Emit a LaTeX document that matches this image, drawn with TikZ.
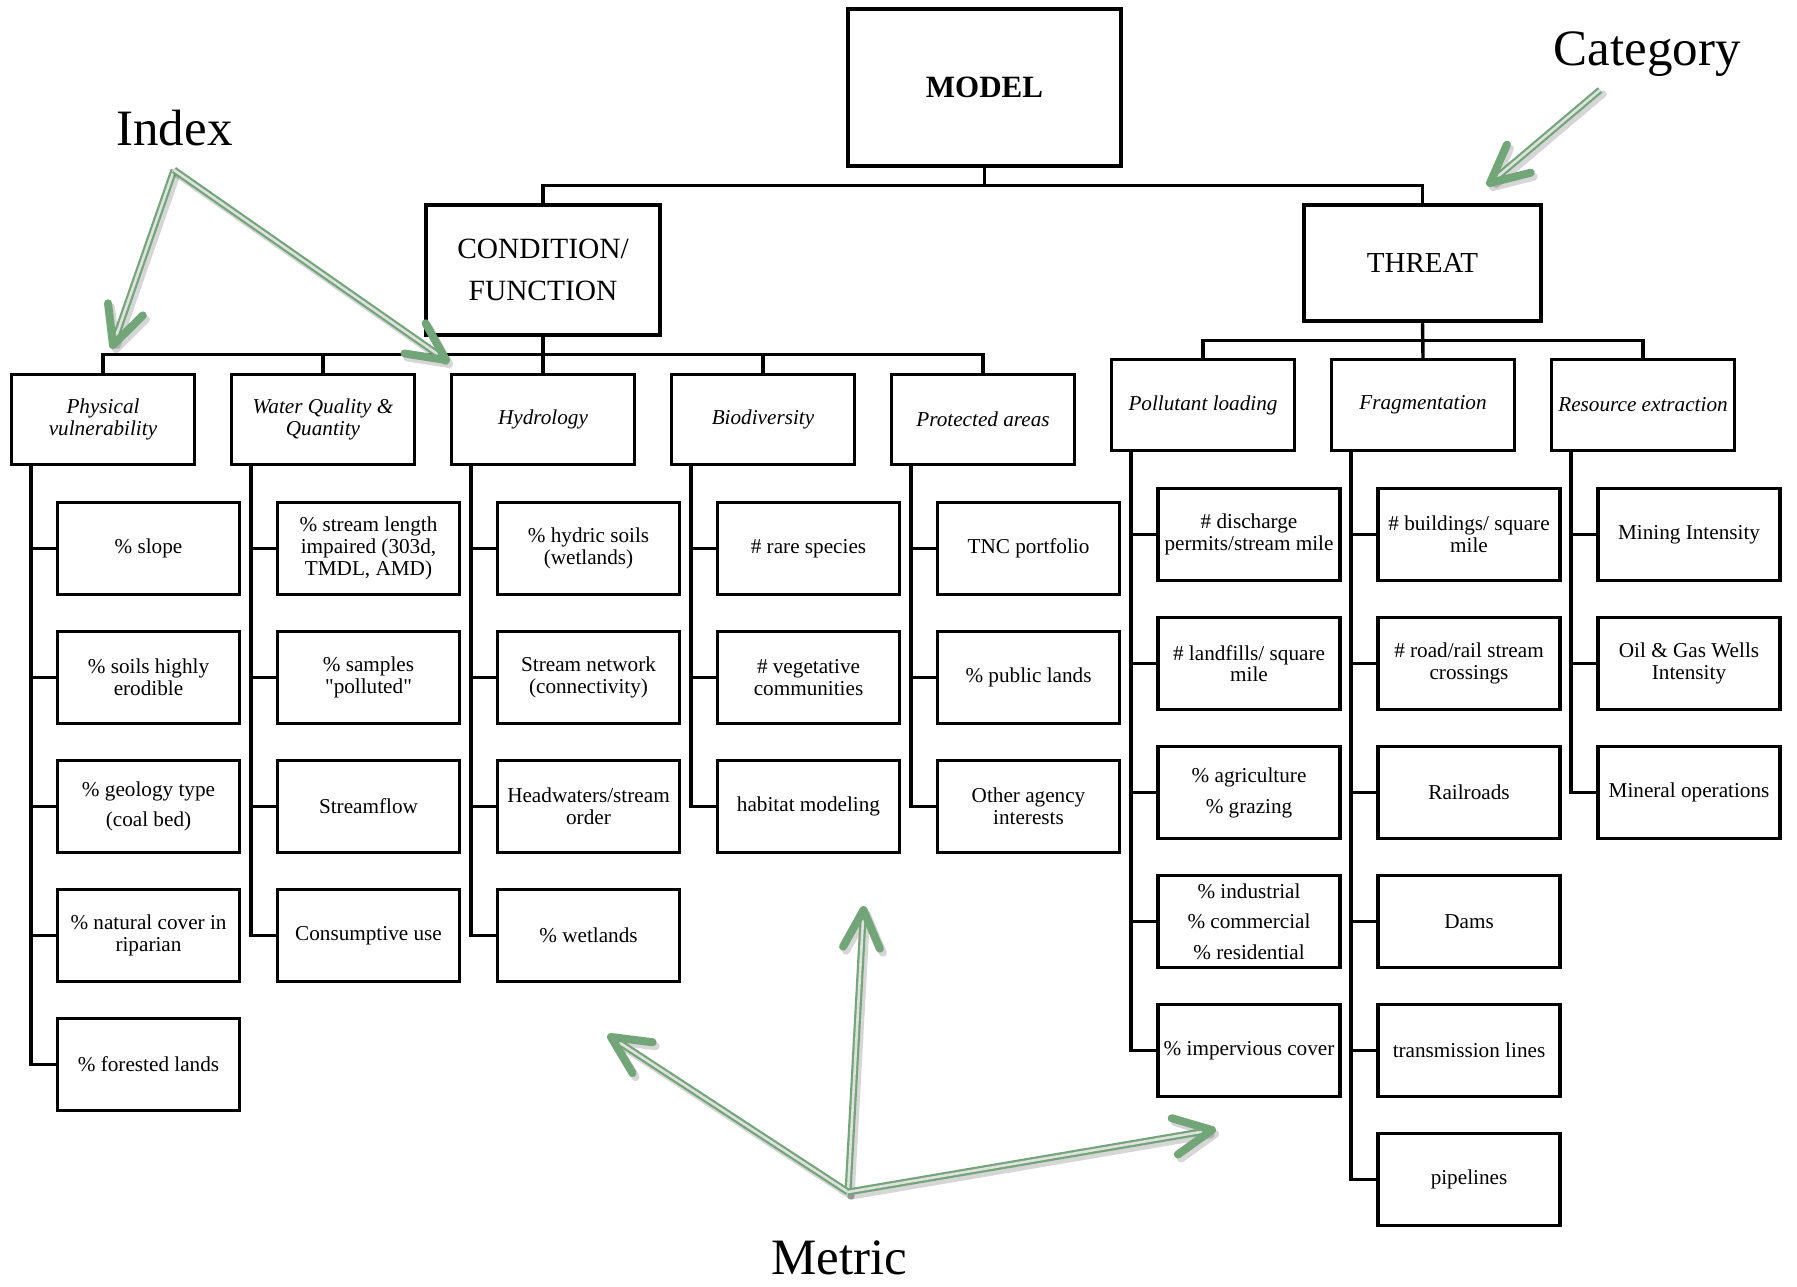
\documentclass[tikz,border=0pt]{standalone}
\usepackage{fontspec}
\setmainfont{Liberation Serif}
\newfontfamily\nolig{Liberation Serif}[Ligatures=TeXOff]
\usetikzlibrary{calc}
\definecolor{gArr}{RGB}{114,166,120}
\tikzset{
  box/.style={draw, line width=1.6pt, align=center, inner sep=1pt, fill=white},
  topbox/.style={box},
  idx/.style={box, minimum width=91.5pt, minimum height=45.3pt, font=\fontsize{10.6}{10.9}\selectfont\itshape},
  met/.style={box, minimum width=91pt, minimum height=46pt, font=\fontsize{10.6}{10.85}\selectfont},
  conn/.style={line width=1.7pt},
  lbl/.style={font=\fontsize{25.5}{28}\selectfont, anchor=base, inner sep=0pt},
  gshaft/.style={draw=gArr, double=white!88!black, line width=1.1pt, double distance=1.3pt},
  ghead/.style={draw=gArr, line width=4pt, line cap=round, line join=round},
  shadeA/.style={draw=black, opacity=.16, line width=3.6pt, line cap=round},
  shadeB/.style={draw=black, opacity=.16, line width=4pt, line cap=round, line join=round},
}
\newcommand\annarrow[2]{%
  \begin{scope}[transform canvas={shift={(1.5pt,-2pt)}}]
    \draw[shadeA] (#1) -- ($(#2)!2pt!(#1)$);
    \draw[shadeB] ($(#2)!21pt!26:(#1)$) -- (#2) -- ($(#2)!21pt!-26:(#1)$);
  \end{scope}
  \draw[gshaft] (#1) -- ($(#2)!2.5pt!(#1)$);
  \draw[ghead] ($(#2)!21pt!26:(#1)$) -- (#2) -- ($(#2)!21pt!-26:(#1)$);
}
\newcommand\spine[2]{\draw[conn] ([xshift=-36pt]#1.south) |- (#2.west);}
\begin{document}
\begin{tikzpicture}[x=0.5pt,y=-0.5pt]
\useasboundingbox (0,0) rectangle (1797,1286);
\fill[white] (0,0) rectangle (1797,1286);

% top level
\node[topbox, minimum width=136.5pt, minimum height=78.5pt, font=\fontsize{15.5}{18}\selectfont\bfseries] (model) at (984.5,87.5) {MODEL};
\node[topbox, minimum width=117pt, minimum height=65pt, font=\fontsize{14.7}{21.2}\selectfont] (cf) at (543,270) {CONDITION/\\FUNCTION};
\node[topbox, minimum width=118.5pt, minimum height=58pt, font=\fontsize{14.5}{17}\selectfont] (th) at (1422.5,263) {THREAT};

% index boxes
\node[idx] (pv) at (103,419.5) {Physical\\vulnerability};
\node[idx] (wq) at (323,419.5) {Water Quality \&\\Quantity};
\node[idx] (hy) at (543,419.5) {Hydrology};
\node[idx] (bd) at (763,419.5) {Biodiversity};
\node[idx] (pa) at (983,419.5) {Protected areas};
\node[idx] (pl) at (1203,405) {Pollutant loading};
\node[idx] (fr) at (1423,405) {Fragmentation};
\node[idx] (re) at (1643,405) {Resource extraction};

% metrics: physical vulnerability
\node[met] (a1) at (148.5,548.5) {\% slope};
\node[met] (a2) at (148.5,677.5) {\% soils highly\\erodible};
\node[met] (a3) at (148.5,806.5) {\% geology type\\[4pt](coal bed)};
\node[met] (a4) at (148.5,935.5) {\% natural cover in\\riparian};
\node[met] (a5) at (148.5,1064.5) {\% forested lands};
% water quality
\node[met] (b1) at (368.5,548.5) {\% stream length\\impaired (303d,\\TMDL, AMD)};
\node[met] (b2) at (368.5,677.5) {\% samples\\{\nolig "polluted"}};
\node[met] (b3) at (368.5,806.5) {Streamflow};
\node[met] (b4) at (368.5,935.5) {Consumptive use};
% hydrology
\node[met] (c1) at (588.5,548.5) {\% hydric soils\\(wetlands)};
\node[met] (c2) at (588.5,677.5) {Stream network\\(connectivity)};
\node[met] (c3) at (588.5,806.5) {Headwaters/stream\\order};
\node[met] (c4) at (588.5,935.5) {\% wetlands};
% biodiversity
\node[met] (d1) at (808.5,548.5) {\# rare species};
\node[met] (d2) at (808.5,677.5) {\# vegetative\\communities};
\node[met] (d3) at (808.5,806.5) {habitat modeling};
% protected areas
\node[met] (e1) at (1028.5,548.5) {TNC portfolio};
\node[met] (e2) at (1028.5,677.5) {\% public lands};
\node[met] (e3) at (1028.5,806.5) {Other agency\\interests};
% pollutant loading
\node[met] (p1) at (1249,534.5) {\# discharge\\permits/stream mile};
\node[met] (p2) at (1249,663.5) {\# landfills/ square\\mile};
\node[met] (p3) at (1249,792.5) {\% agriculture\\[4.7pt]\% grazing};
\node[met] (p4) at (1249,921.5) {\% industrial\\[4.3pt]\% commercial\\[4.3pt]\% residential};
\node[met] (p5) at (1249,1050.5) {\% impervious cover};
% fragmentation
\node[met] (f1) at (1469,534.5) {\# buildings/ square\\mile};
\node[met] (f2) at (1469,663.5) {\# road/rail stream\\crossings};
\node[met] (f3) at (1469,792.5) {Railroads};
\node[met] (f4) at (1469,921.5) {Dams};
\node[met] (f5) at (1469,1050.5) {transmission lines};
\node[met] (f6) at (1469,1179.5) {pipelines};
% resource extraction
\node[met] (r1) at (1689,534.5) {Mining Intensity};
\node[met] (r2) at (1689,663.5) {Oil \& Gas Wells\\Intensity};
\node[met] (r3) at (1689,792.5) {Mineral operations};

% tree connectors
\coordinate (mbus) at ($(model.south)!.5!(model.south |- cf.north)$);
\draw[conn] (cf.north) |- (mbus) -| (th.north);
\draw[conn] (model.south) -- (mbus);

\coordinate (cbus) at ($(cf.south)!.5!(hy.north)$);
\draw[conn] (pv.north) |- (cbus) -| (pa.north);
\draw[conn] (cf.south) -- (hy.north);
\draw[conn] (wq.north) -- (wq.north |- cbus);
\draw[conn] (bd.north) -- (bd.north |- cbus);

\coordinate (tbus) at ($(th.south)!.5!(fr.north)$);
\draw[conn] (pl.north) |- (tbus) -| (re.north);
\draw[conn] (th.south) -- (fr.north);

\spine{pv}{a1}\spine{pv}{a2}\spine{pv}{a3}\spine{pv}{a4}\spine{pv}{a5}
\spine{wq}{b1}\spine{wq}{b2}\spine{wq}{b3}\spine{wq}{b4}
\spine{hy}{c1}\spine{hy}{c2}\spine{hy}{c3}\spine{hy}{c4}
\spine{bd}{d1}\spine{bd}{d2}\spine{bd}{d3}
\spine{pa}{e1}\spine{pa}{e2}\spine{pa}{e3}
\spine{pl}{p1}\spine{pl}{p2}\spine{pl}{p3}\spine{pl}{p4}\spine{pl}{p5}
\spine{fr}{f1}\spine{fr}{f2}\spine{fr}{f3}\spine{fr}{f4}\spine{fr}{f5}\spine{fr}{f6}
\spine{re}{r1}\spine{re}{r2}\spine{re}{r3}

% annotation labels
\node[lbl] (lidx) at (174.5,145) {Index};
\node[lbl] (lcat) at (1647,65) {Category};
\node[lbl] (lmet) at (839,1274) {Metric};

% annotation arrows
\coordinate (ixs) at (174,170);
\coordinate (ixt1) at (113,345);
\coordinate (ixt2) at (446,360);
\coordinate (cas) at (1600,90);
\coordinate (cat) at (1490,183);
\coordinate (mes) at (848,1192);
\coordinate (mt1) at (863.5,910);
\coordinate (mt2) at (611,1037);
\coordinate (mt3) at (1212,1130);
\annarrow{ixs}{ixt1}
\annarrow{ixs}{ixt2}
\annarrow{cas}{cat}
\annarrow{mes}{mt1}
\annarrow{mes}{mt2}
\annarrow{mes}{mt3}
\end{tikzpicture}
\end{document}
